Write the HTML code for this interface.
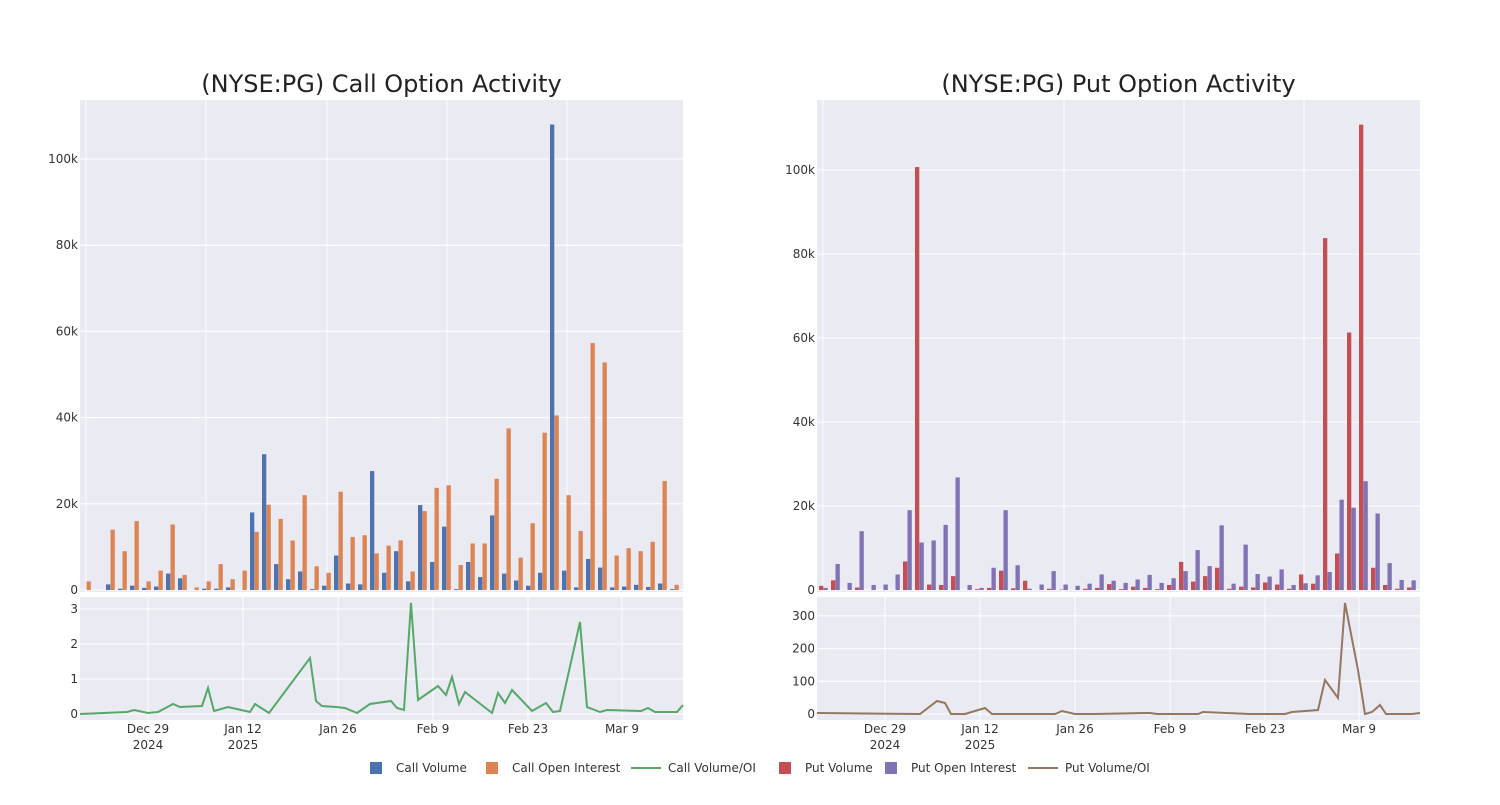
<!DOCTYPE html>
<html><head><meta charset="utf-8"><style>
body{margin:0;background:#fff;width:1500px;height:800px;overflow:hidden;font-family:"Liberation Sans","DejaVu Sans",sans-serif}
</style></head><body>
<svg id="s" width="1500" height="800" xmlns="http://www.w3.org/2000/svg" font-family="DejaVu Sans, Liberation Sans, sans-serif"></svg>
<script>
const s=document.getElementById('s');let h='';
const call=[[0,2],[0,0],[1.3,14],[0.3,9],[1,16],[0.5,2],[0.8,4.5],[3.8,15.2],[2.7,3.5],[0,0.6],[0.3,2],[0.3,6],[0.6,2.5],[0,4.5],[18,13.5],[31.5,19.8],[6,16.5],[2.5,11.5],[4.3,22],[0.2,5.5],[1,4],[8,22.8],[1.5,12.3],[1.3,12.7],[27.6,8.5],[4,10.3],[9,11.5],[2,4.3],[19.7,18.3],[6.5,23.7],[14.7,24.3],[0.2,5.8],[6.5,10.8],[3,10.8],[17.3,25.8],[3.8,37.5],[2.2,7.5],[1,15.5],[4,36.5],[108,40.5],[4.5,22],[0.6,13.7],[7.2,57.3],[5.2,52.8],[0.6,8],[0.8,9.7],[1.2,9],[0.7,11.2],[1.5,25.3],[0.2,1.2]];
const put=[[1,0.5],[2.3,6.2],[0,1.7],[0.6,14],[0,1.2],[0,1.3],[0,3.7],[6.8,19],[100.7,11.3],[1.3,11.8],[1.2,15.5],[3.3,26.8],[0,1.2],[0.2,0.5],[0.5,5.3],[4.6,19],[0.4,5.9],[2.2,0.3],[0,1.3],[0.3,4.5],[0.1,1.3],[0,1],[0.3,1.5],[0.5,3.7],[1.4,2.2],[0.2,1.7],[0.8,2.5],[0.5,3.6],[0.2,1.7],[1.2,2.8],[6.7,4.5],[2,9.5],[3.3,5.7],[5.3,15.4],[0.3,1.5],[0.8,10.8],[0.6,3.8],[1.8,3.2],[1.3,4.9],[0.3,1.2],[3.7,1.6],[1.5,3.5],[83.8,4.3],[8.7,21.5],[61.3,19.6],[110.8,25.9],[5.3,18.2],[1.2,6.4],[0.3,2.4],[0.6,2.3]];
function panel(off,title,data,c1,c2,kpx,ylabs,ly0,lpx,lticks,line,lc,vg){
 const L=80+off,R=683+off;
 h+=`<rect x="${L}" y="100" width="${R-L}" height="492" fill="#eaeaf2"/>`;
 h+=`<rect x="${L}" y="597" width="${R-L}" height="123" fill="#eaeaf2"/>`;
 ylabs.forEach(v=>{const y=590-v*kpx;h+=`<line x1="${L}" x2="${R}" y1="${y}" y2="${y}" stroke="#fff" stroke-width="1"/><text x="${L-2}" y="${y+4}" font-size="12" fill="#333" text-anchor="end">${v?v+'k':'0'}</text>`});
 vg.forEach(x=>h+=`<line x1="${x+off}" x2="${x+off}" y1="100" y2="592" stroke="#fff"/>`);
 data.forEach((d,i)=>{const bx=82+off+12*i;
  h+=`<rect x="${bx}" y="${590-d[0]*kpx}" width="4.3" height="${d[0]*kpx}" fill="${c1}"/>`;
  h+=`<rect x="${bx+4.5}" y="${590-d[1]*kpx}" width="4.3" height="${d[1]*kpx}" fill="${c2}"/>`;});
 lticks.forEach(v=>{const y=714-v*lpx;h+=`<line x1="${L}" x2="${R}" y1="${y}" y2="${y}" stroke="#fff"/><text x="${L-2}" y="${y+4}" font-size="12" fill="#333" text-anchor="end">${v}</text>`});
 const xt=[[148,'Dec 29','2024'],[243,'Jan 12','2025'],[338,'Jan 26'],[433,'Feb 9'],[528,'Feb 23'],[622,'Mar 9']];
 xt.forEach(t=>{const x=t[0]+off;h+=`<line x1="${x}" x2="${x}" y1="597" y2="720" stroke="#fff"/><text x="${x}" y="733" font-size="12" fill="#333" text-anchor="middle">${t[1]}</text>`;if(t[2])h+=`<text x="${x}" y="749" font-size="12" fill="#333" text-anchor="middle">${t[2]}</text>`});
 h+=`<polyline fill="none" stroke="${lc}" stroke-width="2" points="${line.map(p=>(p[0]+off)+','+p[1]).join(' ')}"/>`;
 h+=`<text x="${(L+R)/2}" y="92" font-size="24" fill="#222" text-anchor="middle">${title}</text>`;
}
panel(0,'(NYSE:PG) Call Option Activity',call,'#4c72b0','#dd8452',4.31,[0,20,40,60,80,100],714,35,[0,1,2,3],
[[80,714],[127,712],[134,710],[148,713],[158,712],[173,704],[180,707],[202,706],[208,688],[214,711],[228,707],[250,712],[255,704],[269,713],[310,658],[316,701],[322,706],[336,707],[345,708],[357,713],[370,704],[391,701],[397,708],[404,710],[411,603],[418,700],[438,686],[446,695],[452,677],[459,704],[465,692],[492,713],[498,693],[505,703],[512,690],[532,711],[546,703],[553,712],[560,711],[580,622],[587,707],[600,712],[607,710],[641,711],[648,708],[655,712],[677,712],[683,705]],'#55a868',[86,206,327,447,567]);
panel(737,'(NYSE:PG) Put Option Activity',put,'#c44e52','#8172b3',4.2,[0,20,40,60,80,100],714,0.327,[0,100,200,300],
[[80,713],[183,714],[200,701],[208,703],[214,714],[228,714],[248,708],[255,714],[318,714],[325,711],[338,714],[358,714],[408,713],[413,713],[420,714],[461,714],[466,712],[513,714],[548,714],[555,712],[581,710],[588,680],[601,698],[608,603],[621,670],[628,714],[635,712],[643,705],[649,714],[675,714],[683,713]],'#937860',[86,327,447,567]);
h=h.replace(/(\d+\.\d{3,})/g,m=>(+m).toFixed(2));
const lg=[[370,'sq','#4c72b0','Call Volume'],[486,'sq','#dd8452','Call Open Interest'],[631,'ln','#55a868','Call Volume/OI'],[779,'sq','#c44e52','Put Volume'],[885,'sq','#8172b3','Put Open Interest'],[1028,'ln','#937860','Put Volume/OI']];
lg.forEach(g=>{if(g[1]=='sq'){h+=`<rect x="${g[0]}" y="762" width="12" height="12" fill="${g[2]}"/><text x="${g[0]+26}" y="772" font-size="12" fill="#333">${g[3]}</text>`}else{h+=`<line x1="${g[0]}" x2="${g[0]+30}" y1="768" y2="768" stroke="${g[2]}" stroke-width="2"/><text x="${g[0]+37}" y="772" font-size="12" fill="#333">${g[3]}</text>`}});
s.innerHTML=h;
</script>
</body></html>
